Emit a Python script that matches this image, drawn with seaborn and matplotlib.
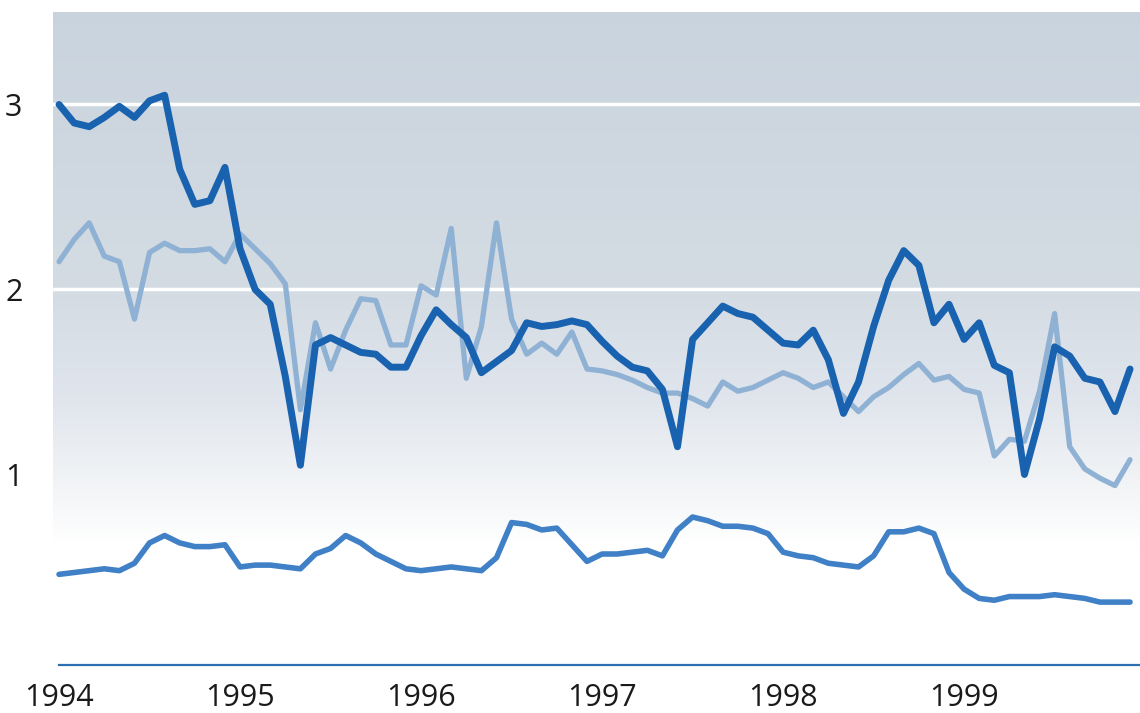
import numpy as np
import pandas as pd
import matplotlib
matplotlib.use("Agg")
import matplotlib.pyplot as plt
import seaborn as sns

# =========================================================
# DATA (monthly, Jan 1994 - Dec 1999)
# =========================================================

months = np.arange(72)

dark_values = [
    3.00, 2.90, 2.88, 2.93, 2.99, 2.93, 3.02, 3.05, 2.65, 2.46, 2.48, 2.66,
    2.22, 2.00, 1.92, 1.53, 1.05, 1.70, 1.74, 1.70, 1.66, 1.65, 1.58, 1.58,
    1.75, 1.89, 1.81, 1.74, 1.55, 1.61, 1.67, 1.82, 1.80, 1.81, 1.83, 1.81,
    1.72, 1.64, 1.58, 1.56, 1.46, 1.15, 1.73, 1.82, 1.91, 1.87, 1.85, 1.78,
    1.71, 1.70, 1.78, 1.62, 1.33, 1.50, 1.80, 2.05, 2.21, 2.13, 1.82, 1.92,
    1.73, 1.82, 1.59, 1.55, 1.00, 1.30, 1.69, 1.64, 1.52, 1.50, 1.34, 1.57,
]

light_values = [
    2.15, 2.27, 2.36, 2.18, 2.15, 1.84, 2.20, 2.25, 2.21, 2.21, 2.22, 2.15,
    2.30, 2.22, 2.14, 2.03, 1.35, 1.82, 1.57, 1.78, 1.95, 1.94, 1.70, 1.70,
    2.02, 1.97, 2.33, 1.52, 1.80, 2.36, 1.84, 1.65, 1.71, 1.65, 1.77, 1.57,
    1.56, 1.54, 1.51, 1.47, 1.44, 1.44, 1.41, 1.37, 1.50, 1.45, 1.47, 1.51,
    1.55, 1.52, 1.47, 1.50, 1.42, 1.34, 1.42, 1.47, 1.54, 1.60, 1.51, 1.53,
    1.46, 1.44, 1.10, 1.19, 1.18, 1.45, 1.87, 1.15, 1.03, 0.98, 0.94, 1.08,
]

low_values = [
    0.46, 0.47, 0.48, 0.49, 0.48, 0.52, 0.63, 0.67, 0.63, 0.61, 0.61, 0.62,
    0.50, 0.51, 0.51, 0.50, 0.49, 0.57, 0.60, 0.67, 0.63, 0.57, 0.53, 0.49,
    0.48, 0.49, 0.50, 0.49, 0.48, 0.55, 0.74, 0.73, 0.70, 0.71, 0.62, 0.53,
    0.57, 0.57, 0.58, 0.59, 0.56, 0.70, 0.77, 0.75, 0.72, 0.72, 0.71, 0.68,
    0.58, 0.56, 0.55, 0.52, 0.51, 0.50, 0.56, 0.69, 0.69, 0.71, 0.68, 0.47,
    0.38, 0.33, 0.32, 0.34, 0.34, 0.34, 0.35, 0.34, 0.33, 0.31, 0.31, 0.31,
]

years = [1994, 1995, 1996, 1997, 1998, 1999]
y_ticks = [1, 2, 3]

df = pd.DataFrame({
    "year": 1994 + months / 12,
    "dark": dark_values,
    "light": light_values,
    "low": low_values,
})

# =========================================================
# STYLE
# =========================================================

sns.set_style("white")
plt.rcParams["font.family"] = ["Open Sans", "DejaVu Sans"]

fig = plt.figure(figsize=(11.4, 7.13), dpi=100)
ax = fig.add_axes([53 / 1140, 48 / 713, 1087 / 1140, 653 / 713])

x_min = 1994 - 0.4 / 12
x_max = 1994 + 71.66 / 12
y_min, y_max = -0.03, 3.50

# background gradient: grey-blue at the top fading to white
ys = np.linspace(y_min, y_max, 400)
stops_y = [0.62, 1.0, 1.4, 2.0, 3.5]
r = np.interp(ys, stops_y, [1.0, 0.94, 0.88, 0.83, 0.79])
g = np.interp(ys, stops_y, [1.0, 0.95, 0.90, 0.86, 0.83])
b = np.interp(ys, stops_y, [1.0, 0.96, 0.93, 0.89, 0.87])
grad = np.stack([r, g, b], axis=-1)[::-1, None, :]
ax.imshow(grad, extent=[x_min, x_max, y_min, y_max], aspect="auto", zorder=0)

for yv in [2, 3]:
    ax.axhline(yv, color="white", linewidth=2.5, zorder=1)

# =========================================================
# LINES
# =========================================================

sns.lineplot(data=df, x="year", y="light", color="#8fb1d4", linewidth=3.8,
             solid_joinstyle="round", solid_capstyle="round", ax=ax, zorder=3)
sns.lineplot(data=df, x="year", y="low", color="#3f80c6", linewidth=4.0,
             solid_joinstyle="round", solid_capstyle="round", ax=ax, zorder=3)
sns.lineplot(data=df, x="year", y="dark", color="#1862b0", linewidth=5.0,
             solid_joinstyle="round", solid_capstyle="round", ax=ax, zorder=4)

# =========================================================
# AXES
# =========================================================

ax.set_xlim(x_min, x_max)
ax.set_ylim(y_min, y_max)

ax.set_xticks(years)
ax.set_xticklabels([str(y) for y in years])
ax.set_yticks(y_ticks)
ax.set_yticklabels([str(y) for y in y_ticks])
ax.tick_params(axis="both", length=0, labelsize=22, labelcolor="#1a1a1a")
ax.tick_params(axis="y", pad=22)
ax.tick_params(axis="x", pad=13)

ax.set_xlabel("")
ax.set_ylabel("")

for side in ["top", "right", "left"]:
    ax.spines[side].set_visible(False)
ax.spines["bottom"].set_color("#2e6fb2")
ax.spines["bottom"].set_linewidth(1.6)
ax.spines["bottom"].set_bounds(1994, x_max)

fig.savefig("out.png", dpi=100)
